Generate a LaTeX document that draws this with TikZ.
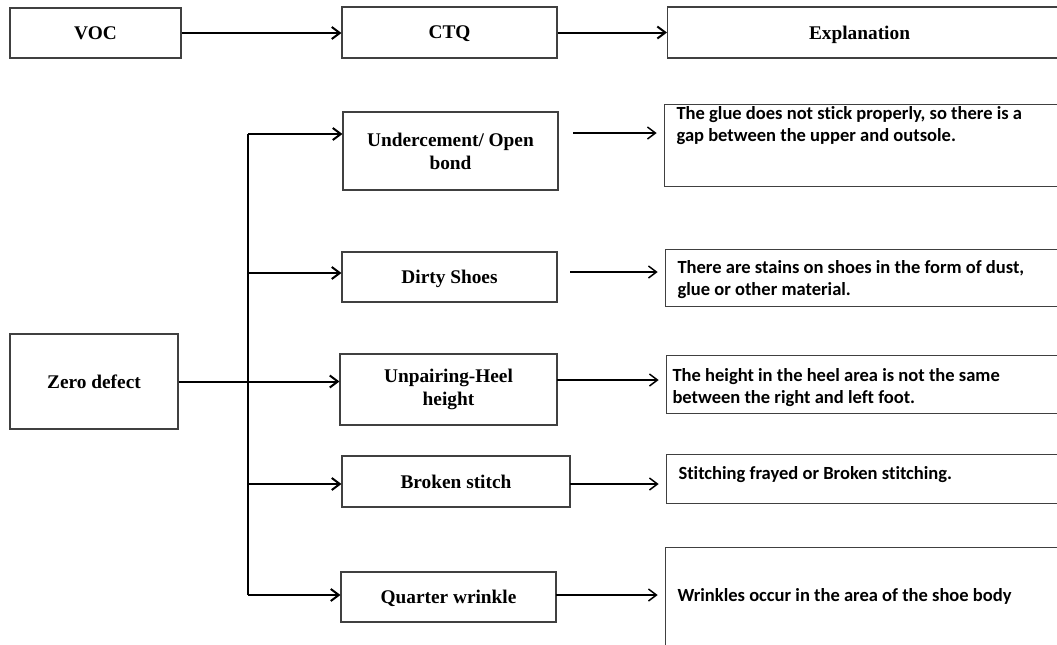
\documentclass[tikz,border=0pt]{standalone}
\usepackage{fontspec}
\setmainfont{Liberation Serif}
\newfontfamily\explfont[Ligatures=NoCommon]{Carlito}
\usetikzlibrary{arrows.meta}
\newlength\pxu
\setlength\pxu{0.75pt}
\tikzset{
  ctqbox/.style={draw=black!75, line width=0.8pt, align=center, inner sep=0pt,
    font=\fontsize{14.5}{17.3}\selectfont\bfseries},
  expbox/.style={draw=black!75, line width=0.8pt, anchor=north west,
    inner xsep=9pt, inner ysep=0pt},
  arr/.style={-{Straight Barb[length=6pt,width=9pt]}, line width=1.5pt},
  arrthin/.style={-{Straight Barb[length=6pt,width=9pt]}, line width=1.1pt, shorten >=5.5pt}
}
\newcommand\expltext[3]{\parbox[c][#1\pxu][t]{440\pxu}{\vspace*{#2\pxu}%
  \explfont\bfseries\fontsize{13.9}{16.4}\selectfont\raggedright #3}}

\begin{document}
\begin{tikzpicture}[x=0.75pt, y=-0.75pt]
  %%%%% START %%%%%
  \useasboundingbox (0,0) rectangle (1057,644);
  \clip (0,0) rectangle (1057,644);

  % header row
  \node[ctqbox, minimum width=171*\pxu, minimum height=50*\pxu] (voc) at (95.5,33) {VOC};
  \node[ctqbox, text depth=0pt, minimum width=215*\pxu, minimum height=51*\pxu] (ctq) at (449.5,32.5) {CTQ};
  \node[ctqbox, text depth=0pt, anchor=west, minimum height=51*\pxu] (head) at (667,32.5)
    {\makebox[384\pxu]{Explanation}\hspace*{40\pxu}};
  \draw[arr] (voc.east) -- (voc.east -| ctq.west);
  \draw[arr] (ctq.east) -- (ctq.east -| head.west);

  % VOC and CTQ
  \node[ctqbox, minimum width=168*\pxu, minimum height=95*\pxu] (zd) at (94,381.5) {Zero defect};
  \node[ctqbox, minimum width=215*\pxu, minimum height=78*\pxu] (u1) at (450.5,151) {Undercement/ Open\\bond};
  \node[ctqbox, text depth=0pt, minimum width=215*\pxu, minimum height=50*\pxu] (u2) at (449.5,277) {Dirty Shoes};
  \node[ctqbox, minimum width=217*\pxu, minimum height=71*\pxu] (u3) at (448.5,389.5) {Unpairing-Heel\\height};
  \node[ctqbox, minimum width=228*\pxu, minimum height=51*\pxu] (u4) at (456,481.5) {Broken stitch};
  \node[ctqbox, text depth=0pt, minimum width=215*\pxu, minimum height=50*\pxu] (u5) at (448.5,597) {Quarter wrinkle};

  \coordinate (b1) at (248,134);
  \coordinate (b2) at (248,273);
  \coordinate (b4) at (248,484);
  \coordinate (b5) at (248,595);
  \draw[line width=1.5pt] (b1) -- (b5);
  \draw[arr] (zd.east) -- (zd.east -| u3.west);
  \foreach \i in {1,2,4,5}
    \draw[arr] (b\i) -- (b\i -| u\i.west);

  % explanations
  \node[expbox] (e1) at (664,104) {\expltext{82}{2}{The glue does not stick properly, so there is a\\gap between the upper and outsole.}};
  \node[expbox] (e2) at (665,249) {\expltext{57}{11}{There are stains on shoes in the form of dust,\\glue or other material.}};
  \node[expbox, inner xsep=4.5pt] (e3) at (666,355) {\expltext{58}{13}{The height in the heel area is not the same\\between the right and left foot.}};
  \node[expbox] (e4) at (666,454) {\expltext{49}{12}{Stitching frayed or Broken stitching.}};
  \node[expbox] (e5) at (665,547) {\expltext{110}{41}{Wrinkles occur in the area of the shoe body}};

  \coordinate (a1) at (573,133);
  \coordinate (a2) at (570,272);
  \coordinate (a3) at (557,380);
  \coordinate (a4) at (570,484);
  \coordinate (a5) at (556,595);
  \foreach \i in {1,...,5}
    \draw[arrthin] (a\i) -- (a\i -| e\i.west);
  %%%%% END %%%%%
\end{tikzpicture}
\end{document}
